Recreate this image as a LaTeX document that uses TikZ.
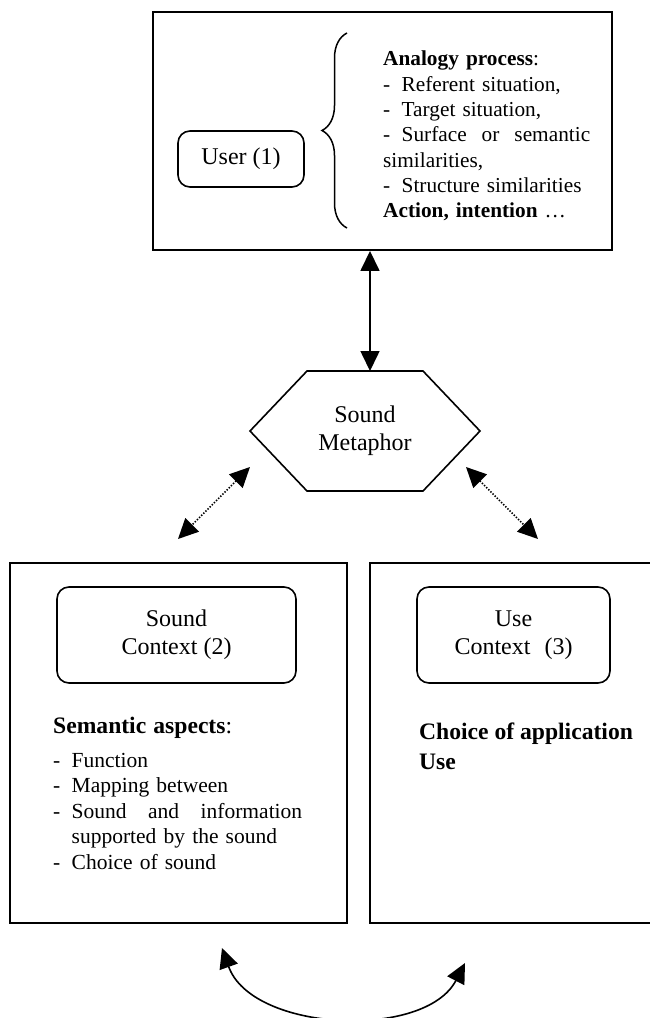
\documentclass[tikz,border=0pt]{standalone}
\usepackage{fontspec}
\setmainfont{Liberation Serif}
\usetikzlibrary{arrows.meta,decorations.pathreplacing}
\newcommand{\dashitem}[1]{\makebox[18.5pt][l]{-}#1}

\begin{document}
\begin{tikzpicture}[x=1pt,y=-1pt,
  frame/.style={draw, line width=1.9pt, inner sep=0pt},
  ctxbox/.style={draw, rounded corners=12pt, line width=1.6pt, align=center,
    inner sep=0pt, font=\fontsize{24}{27.6}\selectfont},
  listtext/.style={align=left, inner sep=0pt, anchor=north west,
    font=\fontsize{21.3}{25.3}\selectfont},
  headtext/.style={align=left, inner sep=0pt, anchor=north west,
    font=\fontsize{23.6}{30}\selectfont\bfseries},
  bothway/.style={{Triangle[length=20pt,width=19pt]}-{Triangle[length=20pt,width=19pt]},
    line width=1.6pt},
  dotway/.style={bothway, dash pattern=on 1.4pt off 1.6pt}]
  \useasboundingbox (0,0) rectangle (650,1018);
  \clip (0,0) rectangle (650,1018);

  % User part
  \node[frame, minimum width=459pt, minimum height=238pt] (topbox) at (382.5,131) {};
  \node[ctxbox, minimum width=126pt, minimum height=56pt] (user) at (241,159) {User (1)};
  \draw[line width=1.5pt, decoration={brace, amplitude=25pt}, decorate] (347,228) -- (347,33);
  \node[listtext, text width=207pt] (analogy) at (383,51) {%
    \textbf{Analogy process}:\\
    \dashitem{Referent situation,}\\
    \dashitem{Target situation,}\\
    \makebox[18.5pt][l]{-}Surface\hfill or\hfill semantic\\
    similarities,\\
    \dashitem{Structure similarities}\\
    \textbf{Action, intention} …};

  % Metaphor hexagon
  \node[align=center, font=\fontsize{24}{27.6}\selectfont] (meta) at (365,431) {Sound\\Metaphor};
  \draw[line width=1.6pt] (250,431) -- (307,371) -- (423,371) -- (480,431)
    -- (423,491) -- (307,491) -- cycle;
  \coordinate (hexT) at (370,371);
  \draw[bothway] ([xshift=-12.5pt]topbox.south) -- (hexT);

  % Context boxes
  \node[frame, minimum width=337pt, minimum height=360pt] (leftbox) at (178.5,743) {};
  \node[frame, minimum width=300pt, minimum height=360pt] (rightbox) at (520,743) {};
  \node[ctxbox, minimum width=239pt, minimum height=96pt] (sound) at (176.5,635) {Sound\\Context (2)};
  \node[ctxbox, minimum width=193pt, minimum height=96pt] (use) at (513.5,635) {Use\\Context\hspace{14pt}(3)};
  \node[listtext, text width=249pt, font=\fontsize{21.5}{25.5}\selectfont] (semantic) at (53,716.7) {%
    {\fontsize{23.6}{25.5}\selectfont\textbf{Semantic aspects}:}\\[8.5pt]
    \dashitem{Function}\\
    \dashitem{Mapping between}\\
    \makebox[18.5pt][l]{-}Sound\hfill and\hfill information\\
    \hspace*{18.5pt}supported by the sound\\
    \dashitem{Choice of sound}};
  \node[headtext] (choice) at (419,723) {Choice of application\\Use};

  % Dotted links
  \coordinate (dotLa) at (250,467);
  \coordinate (dotLb) at (178,539);
  \coordinate (dotRa) at (466,467);
  \coordinate (dotRb) at (538,539);
  \draw[dotway] (dotLa) -- (dotLb);
  \draw[dotway] (dotRa) -- (dotRb);

  % Exchange between contexts
  \coordinate (loopL) at (222,948);
  \coordinate (loopR) at (465,963);
  \draw[bothway] (loopL) .. controls (252,1032) and (425,1040) .. (loopR);
\end{tikzpicture}
\end{document}
